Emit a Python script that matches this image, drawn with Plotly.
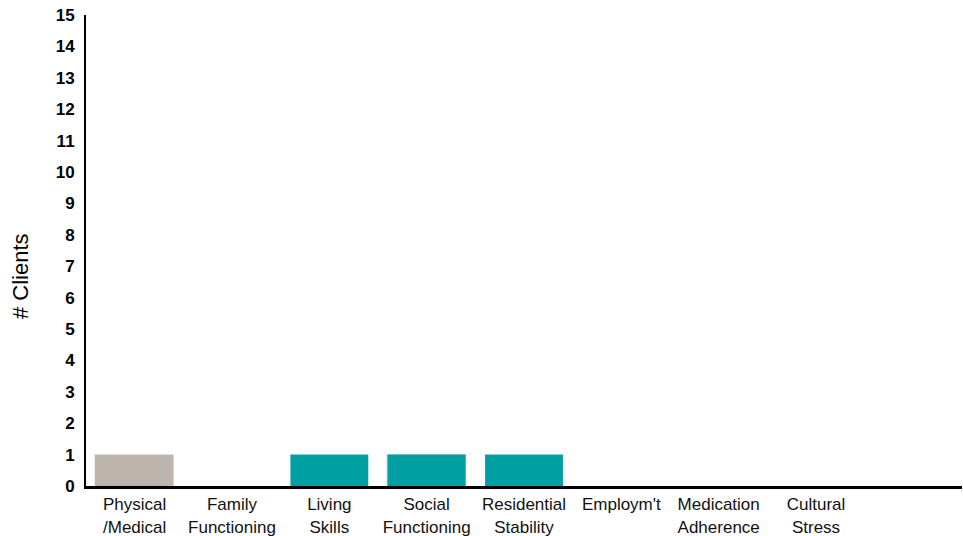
import plotly.graph_objects as go

categories = ["Physical<br>/Medical", "Family<br>Functioning", "Living<br>Skills", "Social<br>Functioning",
              "Residential<br>Stability", "Employm't", "Medication<br>Adherence", "Cultural<br>Stress", ""]
gray_values = [1, 0, 0, 1, 0, 0, 0, 0, 0]
teal_values = [0, 0, 1, 1, 1, 0, 0, 0, 0]
y_ticks = list(range(0, 16))

xpos = list(range(len(categories)))

fig = go.Figure()
fig.add_trace(go.Bar(x=xpos, y=gray_values, marker=dict(color="#bdb5ae", line=dict(width=0)),
                     width=0.81, offset=-0.41))
fig.add_trace(go.Bar(x=xpos, y=teal_values, marker=dict(color="#00a0a3", line=dict(width=0)),
                     width=0.80, offset=-0.40))

fig.update_layout(
    width=963, height=536,
    margin=dict(l=86, r=1, t=15, b=50),
    paper_bgcolor="white", plot_bgcolor="white",
    barmode="overlay", showlegend=False,
    font=dict(family="Liberation Sans, Arial, sans-serif", color="black"),
    xaxis=dict(range=[-0.5, 8.5], tickvals=xpos, ticktext=categories,
               showline=True, linecolor="black", linewidth=3,
               showgrid=False, zeroline=False, automargin=False,
               ticks="outside", ticklen=1, tickcolor="rgba(0,0,0,0)",
               tickfont=dict(size=17, color="#111")),
    yaxis=dict(range=[0, 15], tickvals=y_ticks, showline=True, linecolor="black", linewidth=2,
               showgrid=False, zeroline=False, automargin=False,
               ticks="outside", ticklen=6, tickcolor="rgba(0,0,0,0)",
               tickfont=dict(size=17, weight="bold")),
    annotations=[dict(text="# Clients", xref="paper", yref="paper",
                      x=(20 - 86) / 876, y=(486 - 276) / 471, xanchor="center", yanchor="middle",
                      textangle=-90, showarrow=False, font=dict(size=22, color="black"))],
)

fig.write_html("out.html", config={"displayModeBar": False},
               post_script="document.body.style.margin='0';document.body.style.overflow='hidden';")
